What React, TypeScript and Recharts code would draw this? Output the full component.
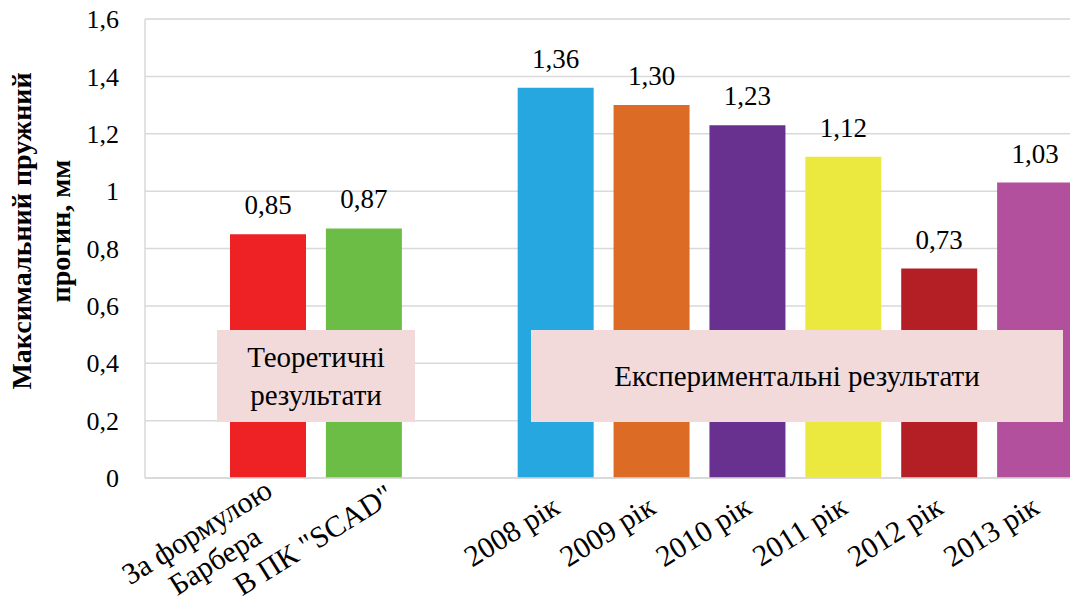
import React from "react";
import { BarChart, Bar, XAxis, YAxis, CartesianGrid, Cell, LabelList } from "recharts";

const categories = [
  "За формулою\nБарбера",
  'В ПК "SCAD"',
  "",
  "2008 рік",
  "2009 рік",
  "2010 рік",
  "2011 рік",
  "2012 рік",
  "2013 рік",
];
const deflection = [0.85, 0.87, null, 1.36, 1.3, 1.23, 1.12, 0.73, 1.03];
const barColors = ["#ee2225", "#6cbd45", "none", "#27a7e0", "#dc6b25", "#68318f", "#ebe93f", "#b31f24", "#b3509e"];

const yTicks = [0, 0.2, 0.4, 0.6, 0.8, 1, 1.2, 1.4, 1.6];
const yMinorTicks = [
  0.04, 0.08, 0.12, 0.16, 0.24, 0.28, 0.32, 0.36, 0.44, 0.48, 0.52, 0.56, 0.64, 0.68, 0.72, 0.76,
  0.84, 0.88, 0.92, 0.96, 1.04, 1.08, 1.12, 1.16, 1.24, 1.28, 1.32, 1.36, 1.44, 1.48, 1.52, 1.56,
];

const yTitle = ["Максимальний пружний", "прогин, мм"];
const theoryNote = ["Теоретичні", "результати"];
const experimentNote = ["Експериментальні результати"];

const data = categories.map((name, i) => ({ name, value: deflection[i] }));

const SERIF = "Liberation Serif";
const X_FONT = 30;
const LABEL_SHIFT: Record<string, [number, number]> = { 'В ПК "SCAD"': [28, 4] };

let ctx: CanvasRenderingContext2D | null = null;
const textWidth = (t: string, font: string) => {
  if (!ctx) ctx = document.createElement("canvas").getContext("2d");
  if (!ctx) return t.length * 14;
  ctx.font = font;
  return ctx.measureText(t).width;
};

const comma = (v: number) => String(v).replace(".", ",");

// rotated category label, lines centred on each other like Excel does
function CategoryTick({ x, y, payload }: any) {
  const value = String(payload.value);
  if (!value) return null;
  const lines = value.split("\n");
  const w = Math.max(...lines.map((l) => textWidth(l, `${X_FONT}px "${SERIF}"`)));
  const multi = lines.length > 1;
  const [sx, sy] = LABEL_SHIFT[value] ?? [multi ? 9 : 0, multi ? -14 : 0];
  return (
    <g transform={`translate(${x + 6},${y + 34}) rotate(-32)`}>
      {lines.map((l, i) => (
        <text
          key={i}
          x={-w / 2 + sx}
          y={i * 34 + sy}
          textAnchor="middle"
          style={{ fontFamily: SERIF, fontSize: X_FONT, fill: "#000" }}
        >
          {l}
        </text>
      ))}
    </g>
  );
}

const noteStyle: React.CSSProperties = {
  position: "absolute",
  top: 330,
  height: 92,
  background: "#f2dadb",
  display: "flex",
  flexDirection: "column",
  justifyContent: "center",
  alignItems: "center",
  fontFamily: SERIF,
  fontSize: 29,
  lineHeight: "38px",
  color: "#000",
};

export default function App() {
  return (
    <div style={{ position: "absolute", left: 0, top: 0, width: 1070, height: 602, overflow: "hidden", background: "#fff" }}>
      <BarChart
        width={1100}
        height={602}
        data={data}
        margin={{ top: 19, right: 17, bottom: 0, left: 0 }}
        barCategoryGap={10}
        style={{ fontFamily: SERIF }}
      >
        <YAxis yAxisId="minor" hide domain={[0, 1.6]} ticks={yMinorTicks} />
        <CartesianGrid yAxisId="minor" vertical={false} stroke="#efefef" strokeWidth={1.5} />
        <CartesianGrid vertical={false} stroke="#d9d9d9" strokeWidth={1.5} />
        <XAxis
          dataKey="name"
          height={124}
          padding={{ left: 75, right: 0 }}
          interval={0}
          tickSize={0}
          tickMargin={0}
          tickLine={false}
          axisLine={{ stroke: "#d9d9d9", strokeWidth: 1.5 }}
          tick={<CategoryTick />}
        />
        <YAxis
          width={145}
          domain={[0, 1.6]}
          ticks={yTicks}
          interval={0}
          tickFormatter={comma}
          tickSize={0}
          tickMargin={26}
          tickLine={false}
          axisLine={{ stroke: "#d9d9d9", strokeWidth: 1.5 }}
          tick={{ fill: "#000", fontSize: 26, style: { fontFamily: SERIF } }}
        />
        <Bar dataKey="value" isAnimationActive={false}>
          {data.map((d, i) => (
            <Cell key={i} fill={barColors[i]} />
          ))}
          <LabelList
            dataKey="value"
            position="top"
            offset={20}
            formatter={(v: any) => (v == null ? "" : Number(v).toFixed(2).replace(".", ","))}
            style={{ fill: "#000", fontFamily: SERIF, fontSize: 27 }}
          />
        </Bar>
      </BarChart>

      <div
        style={{
          position: "absolute",
          left: 42 - 250,
          top: 231 - 40,
          width: 500,
          height: 80,
          transform: "rotate(-90deg)",
          textAlign: "center",
          fontFamily: SERIF,
          fontWeight: "bold",
          fontSize: 28,
          lineHeight: "39px",
          color: "#000",
        }}
      >
        {yTitle.map((t) => (
          <div key={t}>{t}</div>
        ))}
      </div>

      <div style={{ ...noteStyle, left: 217, width: 198 }}>
        {theoryNote.map((t) => (
          <div key={t}>{t}</div>
        ))}
      </div>
      <div style={{ ...noteStyle, left: 531, width: 532 }}>
        {experimentNote.map((t) => (
          <div key={t}>{t}</div>
        ))}
      </div>
    </div>
  );
}
